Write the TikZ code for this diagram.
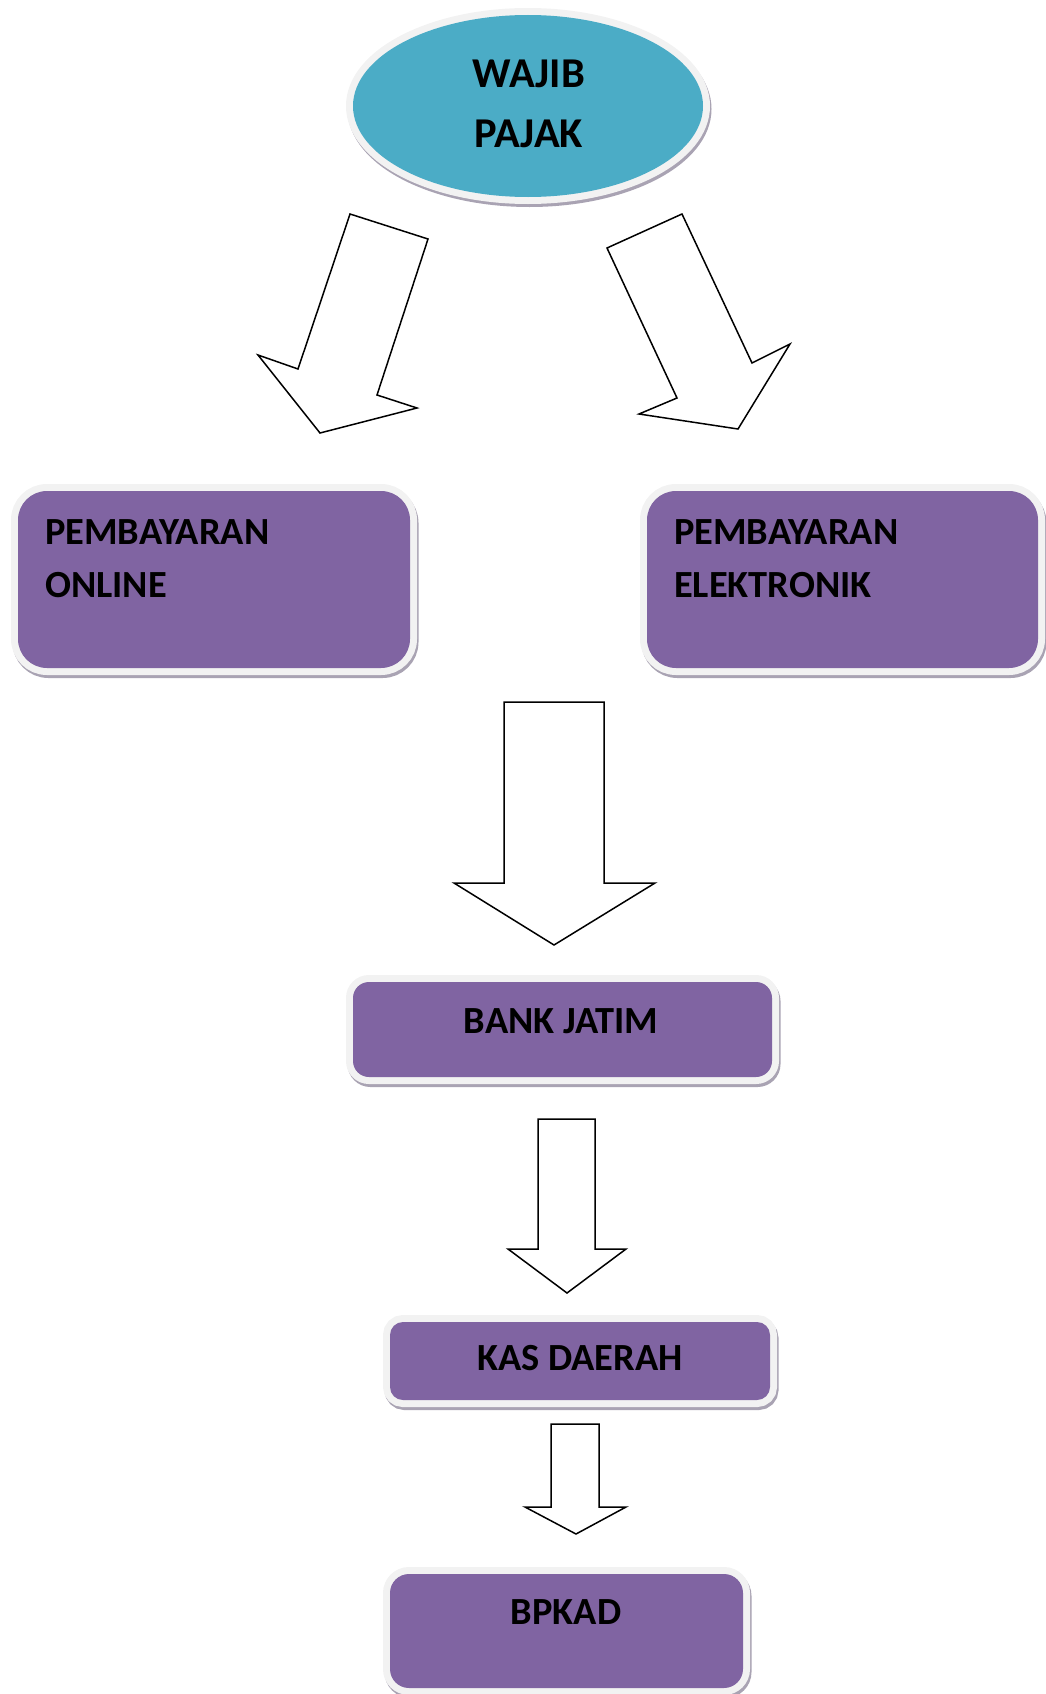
\documentclass[tikz,border=0pt]{standalone}
\usepackage{fontspec}
\setmainfont{Carlito}
\usetikzlibrary{shapes.geometric}
\definecolor{boxpurple}{HTML}{8064A2}
\definecolor{ovalblue}{HTML}{4BACC6}
\definecolor{rimgray}{HTML}{F2F2F2}
\definecolor{shadegray}{HTML}{A9A3B3}

\begin{document}
\begin{tikzpicture}[x=1pt,y=-1pt,
  framed/.style={draw=none,inner sep=0pt,
    preaction={draw=shadegray,line width=14pt,transform canvas={shift={(1.5pt,-3pt)}}},
    preaction={draw=rimgray,line width=14pt}},
  box/.style={framed,rectangle,rounded corners=#1,fill=boxpurple},
  oval/.style={framed,ellipse,fill=ovalblue},
  boxtext/.style={inner sep=0pt,font=\bfseries\fontsize{38.4pt}{46pt}\selectfont},
  ovaltext/.style={inner sep=0pt,font=\bfseries\fontsize{42.5pt}{50pt}\selectfont},
  blockarrow/.style={draw=black,fill=white,line width=1.5pt,line join=miter}]
  \useasboundingbox (0,0) rectangle (1045,1694);

  \node[oval,minimum width=350pt,minimum height=182pt] (wajib) at (528,106) {};
  \node[ovaltext,anchor=base] (wajibA) at (529,87) {WAJIB};
  \node[ovaltext,anchor=base] (wajibB) at (529,147) {PAJAK};

  \draw[blockarrow] (350,214) -- (428,239) -- (377,395) -- (417,408) -- (320,433)
    -- (258,355) -- (298,369) -- cycle;
  \draw[blockarrow] (682,214) -- (752,363) -- (790,344) -- (738,429) -- (639,414)
    -- (677,398) -- (607,248) -- cycle;

  \node[box=29pt,minimum width=392pt,minimum height=177pt] (online) at (214,579.5) {};
  \node[boxtext,anchor=base west] (onlineA) at (45,544) {PEMBAYARAN};
  \node[boxtext,anchor=base west] (onlineB) at (45,597) {ONLINE};

  \node[box=29pt,minimum width=391pt,minimum height=177pt] (elektro) at (842.5,579.5) {};
  \node[boxtext,anchor=base west] (elektroA) at (674,544) {PEMBAYARAN};
  \node[boxtext,anchor=base west] (elektroB) at (674,597) {ELEKTRONIK};

  \draw[blockarrow] (504,702) -- (604,702) -- (604,883) -- (655,883) -- (554,945)
    -- (454,883) -- (504,883) -- cycle;

  \node[box=16pt,minimum width=419pt,minimum height=95pt] (bank) at (562.5,1029.5) {};
  \node[boxtext,anchor=base] (bankA) at (561,1033) {BANK JATIM};

  \draw[blockarrow] (538,1119) -- (595,1119) -- (595,1249) -- (626,1249) -- (567,1293)
    -- (508,1249) -- (538,1249) -- cycle;

  \node[box=13pt,minimum width=380pt,minimum height=78pt] (kas) at (580,1361) {};
  \node[boxtext,anchor=base] (kasA) at (580,1370) {KAS DAERAH};

  \draw[blockarrow] (551,1424) -- (599,1424) -- (599,1507) -- (626,1507) -- (576,1534)
    -- (525,1507) -- (551,1507) -- cycle;

  \node[box=19pt,minimum width=353pt,minimum height=114pt] (bpkad) at (566.5,1631) {};
  \node[boxtext,anchor=base] (bpkadA) at (566,1624) {BPKAD};
\end{tikzpicture}
\end{document}
